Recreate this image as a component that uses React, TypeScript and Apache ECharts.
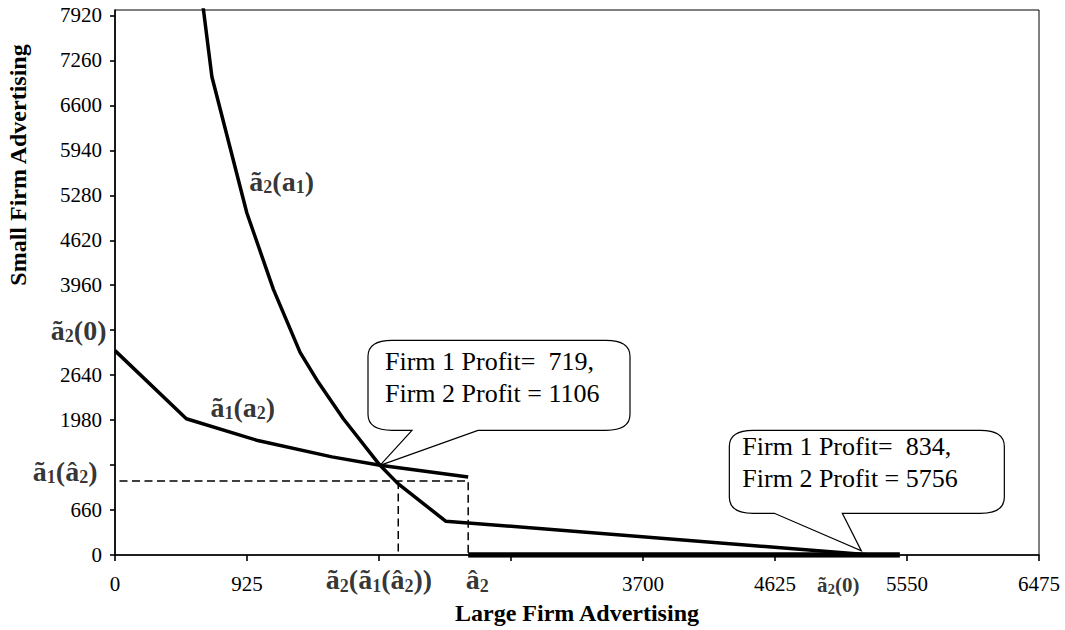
import React, { useEffect, useRef } from "react";
import * as echarts from "echarts";

const FONT = "'Liberation Serif', 'Times New Roman', Times, serif";

// Axis ticks and labels
const X_TICKS = [0, 925, 1850, 2775, 3700, 4625, 5550, 6475];
const X_LABELS = [0, 925, 3700, 4625, 5550, 6475];
const Y_TICKS = [0, 660, 1320, 1980, 2640, 3300, 3960, 4620, 5280, 5940, 6600, 7260, 7920];
const Y_LABELS = [0, 660, 1980, 2640, 3960, 4620, 5280, 5940, 6600, 7260, 7920];

// Reaction curves [large firm advertising, small firm advertising]
const A1_RESPONSE = [
  [0, 3000], [500, 2000], [1000, 1680], [1520, 1440], [1857, 1316], [2475, 1146],
];
const A2_RESPONSE = [
  [590, 8500], [679, 7020], [924, 5020], [1110, 3900], [1297, 2975], [1425, 2535],
  [1600, 2000], [1857, 1316], [1983, 1048], [2317, 497], [5300, 0],
];
const ZERO_SEGMENT = [[2475, 0], [5500, 0]];
const DASH_A = [[0, 1088], [2475, 1088], [2475, 0]];
const DASH_B = [[1985, 1088], [1985, 0]];

// Annotation anchors
const EQ_POINT = [1857, 1316];
const CORNER_POINT = [5230, 60];
const CALLOUT_1 = ["Firm 1 Profit=  719,", "Firm 2 Profit = 1106"];
const CALLOUT_2 = ["Firm 1 Profit=  834,", "Firm 2 Profit = 5756"];

const rich = {
  m: { fontFamily: FONT, fontWeight: "bold", fontSize: 28, lineHeight: 30, color: "#000" },
  s: { fontFamily: FONT, fontWeight: "bold", fontSize: 18, lineHeight: 16, verticalAlign: "bottom", color: "#000" },
  ms: { fontFamily: FONT, fontWeight: "bold", fontSize: 21, lineHeight: 24, color: "#000" },
  ss: { fontFamily: FONT, fontWeight: "bold", fontSize: 15, lineHeight: 13, verticalAlign: "bottom", color: "#000" },
};

function ann(value: number[], formatter: string, position: string, distance: number, offset: number[] = [0, 0]) {
  return {
    value,
    label: { show: true, position, distance, offset, formatter, rich },
  };
}

function calloutPath(l: number, t: number, r: number, b: number, x1: number, x2: number, rx: number, ry: number) {
  return (
    `M${l + rx} ${t} L${r - rx} ${t} Q${r} ${t} ${r} ${t + ry} L${r} ${b - ry} Q${r} ${b} ${r - rx} ${b} ` +
    `L${x2} ${b} L0 0 L${x1} ${b} L${l + rx} ${b} Q${l} ${b} ${l} ${b - ry} L${l} ${t + ry} Q${l} ${t} ${l + rx} ${t} Z`
  );
}

export default function App() {
  const ref = useRef<HTMLDivElement>(null);

  useEffect(() => {
    if (!ref.current) return;
    const chart = echarts.init(ref.current, null, { renderer: "svg" });
    const axisStyle = { color: "#000", width: 1.6 };
    const plain = (v: number) => String(v);
    chart.setOption({
      animation: false,
      backgroundColor: "#fff",
      textStyle: { fontFamily: FONT },
      grid: {
        left: 115, right: 26, top: 10, bottom: 73,
        show: true, borderColor: "#000", borderWidth: 1, backgroundColor: "transparent",
      },
      xAxis: {
        type: "value", min: 0, max: 6475,
        name: "Large Firm Advertising", nameLocation: "middle", nameGap: 46,
        nameTextStyle: { fontFamily: FONT, fontSize: 24, fontWeight: "bold", color: "#000" },
        axisLine: { show: true, onZero: false, lineStyle: axisStyle },
        axisTick: { show: true, inside: false, length: 6, lineStyle: axisStyle, customValues: X_TICKS },
        axisLabel: { customValues: X_LABELS, formatter: plain, color: "#000", fontFamily: FONT, fontSize: 21, margin: 18 },
        splitLine: { show: false },
      },
      yAxis: {
        type: "value", min: 0, max: 8000,
        axisLine: { show: true, onZero: false, lineStyle: axisStyle },
        axisTick: { show: true, inside: false, length: 5, lineStyle: axisStyle, customValues: Y_TICKS },
        axisLabel: { customValues: Y_LABELS, formatter: plain, color: "#000", fontFamily: FONT, fontSize: 21, margin: 13 },
        splitLine: { show: false },
      },
      series: [
        { type: "line", data: DASH_A, symbol: "none", silent: true,
          lineStyle: { color: "#000", width: 1.5, type: [8, 4.5], dashOffset: 8 } },
        { type: "line", data: DASH_B, symbol: "none", silent: true,
          lineStyle: { color: "#000", width: 1.5, type: [8, 4.5] } },
        { type: "line", data: A1_RESPONSE, symbol: "none", silent: true,
          lineStyle: { color: "#000", width: 3.5 } },
        { type: "line", data: A2_RESPONSE, symbol: "none", silent: true,
          lineStyle: { color: "#000", width: 3.5 } },
        { type: "line", data: ZERO_SEGMENT, symbol: "none", silent: true,
          lineStyle: { color: "#000", width: 5.5 } },
        {
          type: "scatter", symbol: "circle", symbolSize: 1, silent: true, clip: false,
          itemStyle: { color: "rgba(0,0,0,0)" }, z: 5,
          data: [
            ann([0, 3300], "{m|ã}{s|2}{m|(0)}", "left", 8),
            ann([0, 1320], "{m|ã}{s|1}{m|(â}{s|2}{m|)}", "left", 17, [0, 6]),
            ann([1850, 0], "{m|ã}{s|2}{m|(ã}{s|1}{m|(â}{s|2}{m|))}", "bottom", 9),
            ann([2475, 0], "{m|â}{s|2}", "bottom", 9, [9, 0]),
            ann([5230, 0], "{ms|ã}{ss|2}{ms|(0)}", "bottom", 17, [-23, 0]),
            ann([1168, 5483], "{m|ã}{s|2}{m|(a}{s|1}{m|)}", "inside", 0),
            ann([895, 2170], "{m|ã}{s|1}{m|(a}{s|2}{m|)}", "inside", 0),
          ],
        },
      ],
    });

    echarts.graphic.registerShape(
      "calloutA",
      echarts.graphic.extendPath(calloutPath(-12, -125, 250, -35, 32, 98, 24, 16), {})
    );
    echarts.graphic.registerShape(
      "calloutB",
      echarts.graphic.extendPath(calloutPath(-132, -120.6, 143, -37.6, -87, -19, 24, 16), {})
    );
    const p1 = chart.convertToPixel({ gridIndex: 0 }, EQ_POINT) as number[];
    const p2 = chart.convertToPixel({ gridIndex: 0 }, CORNER_POINT) as number[];
    const boxStyle = { fill: "#fff", stroke: "#000", lineWidth: 1.2 };
    const textStyle = (text: string) => ({
      text, font: `26px ${FONT}`, fill: "#000", lineHeight: 32,
      align: "left", verticalAlign: "top",
    });
    chart.setOption({
      graphic: [
        { type: "calloutA", x: p1[0], y: p1[1], z: 100, style: boxStyle, silent: true },
        { type: "text", x: p1[0] + 5, y: p1[1] - 103.7 - 16, z: 101, style: textStyle(CALLOUT_1.join("\n")), silent: true },
        { type: "calloutB", x: p2[0], y: p2[1], z: 100, style: boxStyle, silent: true },
        { type: "text", x: p2[0] - 119, y: p2[1] - 104.6 - 16, z: 101, style: textStyle(CALLOUT_2.join("\n")), silent: true },
        {
          type: "text", x: 18, y: 165, rotation: Math.PI / 2, z: 101, silent: true,
          style: { text: "Small Firm Advertising", font: `bold 24px ${FONT}`, fill: "#000", align: "center", verticalAlign: "middle" },
        },
      ],
    });
    return () => chart.dispose();
  }, []);

  return <div ref={ref} style={{ position: "absolute", left: 0, top: 0, width: 1065, height: 630, background: "#fff" }} />;
}
